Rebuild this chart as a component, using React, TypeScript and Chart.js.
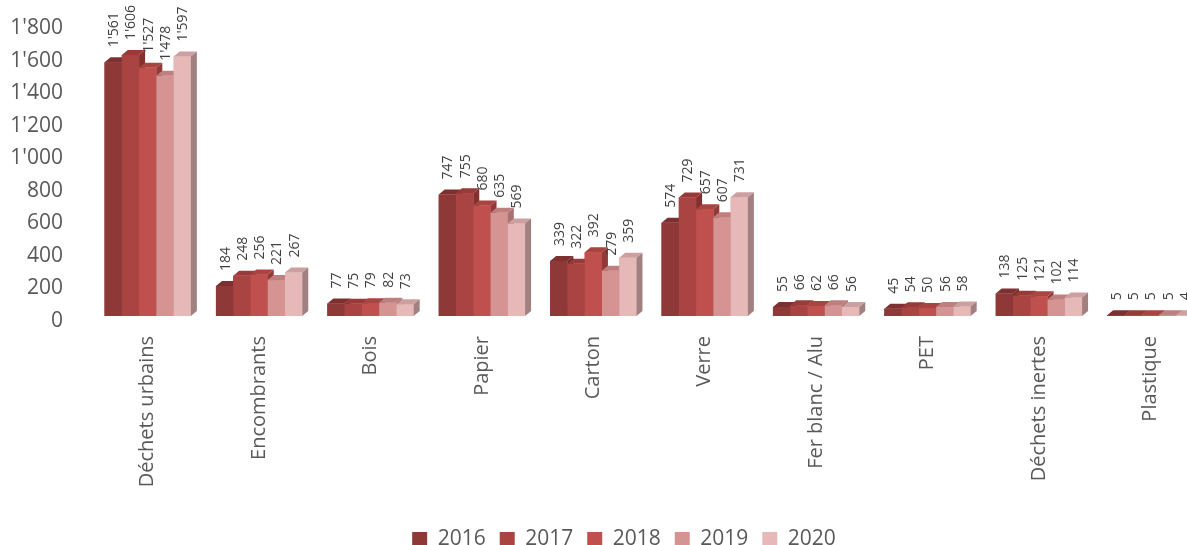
import React, { useEffect, useRef } from 'react';
import { Chart, registerables } from 'chart.js';

Chart.register(...registerables);

const categories = ['Déchets urbains', 'Encombrants', 'Bois', 'Papier', 'Carton', 'Verre', 'Fer blanc / Alu', 'PET', 'Déchets inertes', 'Plastique'];
const years = ['2016', '2017', '2018', '2019', '2020'];
const values2016 = [1561, 184, 77, 747, 339, 574, 55, 45, 138, 5];
const values2017 = [1606, 248, 75, 755, 322, 729, 66, 54, 125, 5];
const values2018 = [1527, 256, 79, 680, 392, 657, 62, 50, 121, 5];
const values2019 = [1478, 221, 82, 635, 279, 607, 66, 56, 102, 5];
const values2020 = [1597, 267, 73, 569, 359, 731, 56, 58, 114, 4];
const seriesValues = [values2016, values2017, values2018, values2019, values2020];
const yMin = 0;
const yMax = 1800;
const yStep = 200;

const frontColors = ['#8E3838', '#AA4442', '#C0504D', '#D59392', '#E6B9B8'];
const topColors = ['#7E3030', '#973A38', '#A94440', '#BE7F7E', '#CCA0A0'];
const sideColors = ['#6E2A2A', '#83302F', '#923A37', '#A77171', '#A08080'];

const FONT = '"Open Sans", "DejaVu Sans", sans-serif';
const TEXT = '#595959';
const DX = 6;
const DY = 5;

function fmt(n: number): string {
  if (n >= 1000) {
    return `${Math.floor(n / 1000)}'${String(n % 1000).padStart(3, '0')}`;
  }
  return String(n);
}

const bar3d = {
  id: 'bar3d',
  afterDatasetsDraw(chart: any) {
    const ctx = chart.ctx as CanvasRenderingContext2D;
    const metas = years.map((_, i) => chart.getDatasetMeta(i));
    ctx.save();
    for (let c = 0; c < categories.length; c++) {
      for (let s = 0; s < metas.length; s++) {
        const el = metas[s].data[c];
        const { x, y, base, width } = el.getProps(['x', 'y', 'base', 'width'], true);
        const l = x - width / 2;
        const r = x + width / 2;
        ctx.fillStyle = frontColors[s];
        ctx.fillRect(l, y, width, base - y);
        ctx.fillStyle = topColors[s];
        ctx.beginPath();
        ctx.moveTo(l, y);
        ctx.lineTo(l + DX, y - DY);
        ctx.lineTo(r + DX, y - DY);
        ctx.lineTo(r, y);
        ctx.closePath();
        ctx.fill();
        ctx.fillStyle = sideColors[s];
        ctx.beginPath();
        ctx.moveTo(r, y);
        ctx.lineTo(r + DX, y - DY);
        ctx.lineTo(r + DX, base - DY);
        ctx.lineTo(r, base);
        ctx.closePath();
        ctx.fill();
      }
    }
    ctx.fillStyle = '#404040';
    ctx.font = `14px ${FONT}`;
    ctx.textAlign = 'left';
    ctx.textBaseline = 'middle';
    for (let s = 0; s < metas.length; s++) {
      for (let c = 0; c < categories.length; c++) {
        const el = metas[s].data[c];
        const { x, y } = el.getProps(['x', 'y'], true);
        ctx.save();
        ctx.translate(x + 1, y - 15);
        ctx.rotate(-Math.PI / 2);
        ctx.fillText(fmt(seriesValues[s][c]), 0, 0);
        ctx.restore();
      }
    }
    ctx.restore();
  },
};

export default function App() {
  const ref = useRef<HTMLCanvasElement | null>(null);
  useEffect(() => {
    if (!ref.current) return;
    const chart = new Chart(ref.current, {
      type: 'bar',
      data: {
        labels: categories,
        datasets: years.map((yr, i) => ({
          label: yr,
          data: seriesValues[i],
          backgroundColor: frontColors[i],
          borderWidth: 0,
          categoryPercentage: 0.775,
          barPercentage: 1.0,
        })),
      },
      options: {
        responsive: false,
        animation: false,
        devicePixelRatio: 1,
        layout: { padding: { top: 23.5, right: 0, left: 0, bottom: 0 } },
        plugins: {
          tooltip: { enabled: false },
          legend: {
            position: 'bottom',
            labels: {
              boxWidth: 15,
              boxHeight: 15,
              padding: 14,
              color: TEXT,
              font: { size: 21, family: FONT },
            },
          },
        },
        scales: {
          x: {
            grid: { display: false, drawTicks: false },
            border: { display: false },
            ticks: {
              color: TEXT,
              font: { size: 20, family: FONT },
              minRotation: 90,
              maxRotation: 90,
              padding: 20,
              autoSkip: false,
            },
            afterFit(scale: any) {
              scale.height = 199;
              scale.paddingLeft = 0;
              scale.paddingRight = 0;
            },
          },
          y: {
            min: yMin,
            max: yMax,
            grid: { display: false, drawTicks: false },
            border: { display: false },
            ticks: {
              stepSize: yStep,
              color: TEXT,
              font: { size: 21, family: FONT },
              padding: 29,
              labelOffset: 5,
              callback: (v: any) => fmt(Number(v)),
            },
            afterFit(scale: any) {
              scale.width = 92;
              scale.paddingTop = 0;
              scale.paddingBottom = 0;
            },
          },
          yRight: {
            type: 'linear',
            position: 'right',
            display: true,
            min: 0,
            max: 1,
            grid: { display: false, drawTicks: false },
            border: { display: false },
            ticks: { display: false },
            afterFit(scale: any) {
              scale.width = 42;
              scale.paddingTop = 0;
              scale.paddingBottom = 0;
            },
          },
        },
      },
      plugins: [bar3d],
    });
    return () => chart.destroy();
  }, []);
  return (
    <div style={{ position: 'fixed', left: 0, top: 0, width: 1187, height: 545, overflow: 'hidden', background: '#fff' }}>
      <canvas ref={ref} width={1248} height={560} />
    </div>
  );
}
